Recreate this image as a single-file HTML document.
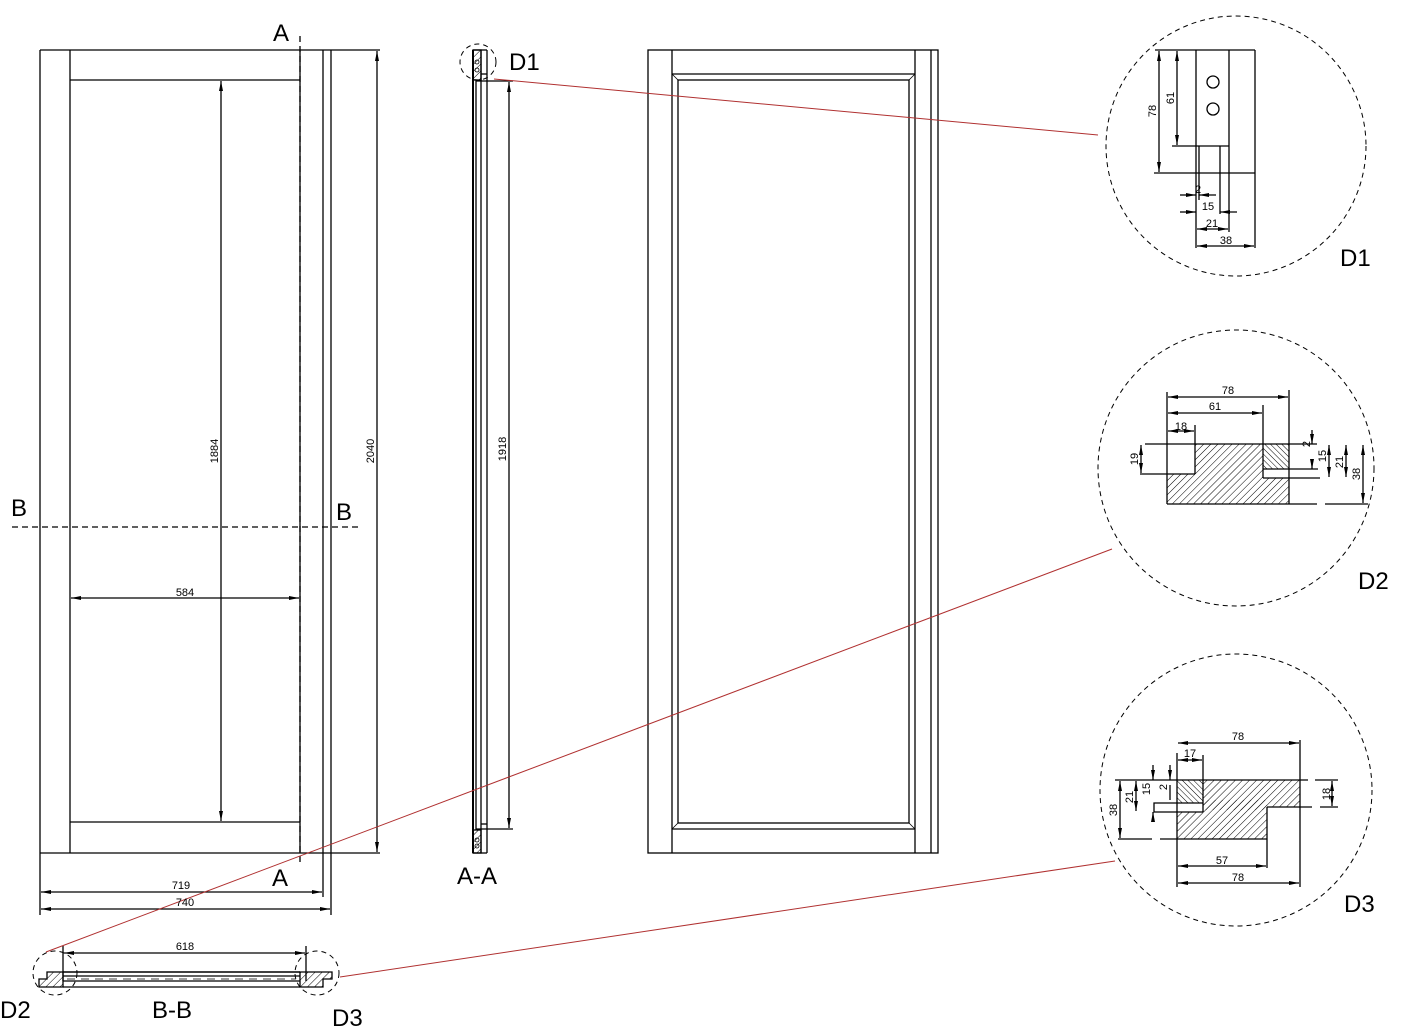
<!DOCTYPE html>
<html><head><meta charset="utf-8"><style>
html,body{margin:0;padding:0;background:#fff;}
svg{display:block;}
text{font-family:"Liberation Sans",sans-serif;fill:#000;}
.s{font-size:11px;}
.L{font-size:24px;}
</style></head><body>
<svg width="1421" height="1026" viewBox="0 0 1421 1026" xmlns="http://www.w3.org/2000/svg">
<defs>
<marker id="a" viewBox="0 0 10 4" refX="10" refY="2" markerWidth="10" markerHeight="4" orient="auto-start-reverse" markerUnits="userSpaceOnUse"><path d="M0,0 L10,2 L0,4z" fill="#000"/></marker>
<pattern id="h" width="5" height="5" patternUnits="userSpaceOnUse" patternTransform="rotate(45)"><line x1="0" y1="0" x2="0" y2="5" stroke="#000" stroke-width="1"/></pattern>
<pattern id="h2" width="4" height="4" patternUnits="userSpaceOnUse" patternTransform="rotate(-45)"><line x1="0" y1="0" x2="0" y2="4" stroke="#000" stroke-width="1"/></pattern>
</defs>
<g fill="none" stroke="#000" stroke-width="1.3">
<!-- Left door -->
<line x1="40" y1="50" x2="380" y2="50"/>
<line x1="40" y1="853" x2="380" y2="853"/>
<line x1="40" y1="50" x2="40" y2="915"/>
<line x1="70" y1="50" x2="70" y2="853"/>
<line x1="300" y1="50" x2="300" y2="853"/>
<line x1="323" y1="50" x2="323" y2="897"/>
<line x1="331" y1="50" x2="331" y2="915"/>
<line x1="70" y1="80" x2="300" y2="80"/>
<line x1="70" y1="822" x2="300" y2="822"/>
<line x1="300" y1="36" x2="300" y2="862" stroke-dasharray="6,4"/>
<line x1="12" y1="527" x2="362" y2="527" stroke-dasharray="6,4"/>
<line x1="221" y1="81" x2="221" y2="821" marker-start="url(#a)" marker-end="url(#a)"/>
<line x1="377" y1="51" x2="377" y2="852" marker-start="url(#a)" marker-end="url(#a)"/>
<line x1="71" y1="598" x2="299" y2="598" marker-start="url(#a)" marker-end="url(#a)"/>
<line x1="41" y1="892" x2="322" y2="892" marker-start="url(#a)" marker-end="url(#a)"/>
<line x1="41" y1="909" x2="330" y2="909" marker-start="url(#a)" marker-end="url(#a)"/>
<!-- A-A -->
<rect x="473" y="50" width="8" height="30" fill="url(#h)"/>
<rect x="473" y="830" width="8" height="23" fill="url(#h)"/>
<line x1="473" y1="50" x2="473" y2="853" stroke-width="2"/>
<line x1="476" y1="80" x2="476" y2="830"/>
<line x1="481" y1="50" x2="481" y2="853"/>
<line x1="487" y1="50" x2="487" y2="853"/>
<line x1="473" y1="50" x2="487" y2="50"/>
<line x1="473" y1="853" x2="487" y2="853"/>
<line x1="481" y1="74" x2="487" y2="74"/>
<line x1="481" y1="824" x2="487" y2="824"/>
<line x1="476" y1="81" x2="513" y2="81"/>
<line x1="476" y1="829" x2="513" y2="829"/>
<line x1="509" y1="82" x2="509" y2="828" marker-start="url(#a)" marker-end="url(#a)"/>
<circle cx="477" cy="62" r="2" stroke-width="0.8"/><circle cx="477" cy="70" r="2" stroke-width="0.8"/>
<circle cx="477" cy="840" r="2" stroke-width="0.8"/><circle cx="477" cy="846" r="2" stroke-width="0.8"/>
<circle cx="478" cy="62" r="18" stroke-dasharray="5,4" stroke-width="1"/>
<!-- Right door -->
<rect x="648" y="50" width="290" height="803"/>
<line x1="672" y1="50" x2="672" y2="853"/>
<line x1="915" y1="50" x2="915" y2="853"/>
<line x1="931" y1="50" x2="931" y2="853"/>
<line x1="672" y1="74" x2="915" y2="74"/>
<line x1="672" y1="829" x2="915" y2="829"/>
<rect x="678" y="80" width="231" height="743"/>
<line x1="672" y1="74" x2="678" y2="80" stroke-width="0.8"/>
<line x1="915" y1="74" x2="909" y2="80" stroke-width="0.8"/>
<line x1="672" y1="829" x2="678" y2="823" stroke-width="0.8"/>
<line x1="915" y1="829" x2="909" y2="823" stroke-width="0.8"/>
<!-- B-B -->
<path d="M47,972 H63 V987 H39 V979 H47Z" fill="url(#h)"/>
<path d="M300,972 H332 V979 H323 V987 H300Z" fill="url(#h)"/>
<line x1="63" y1="972" x2="300" y2="972" stroke-width="1.6"/>
<line x1="63" y1="976" x2="300" y2="976"/>
<line x1="67" y1="979" x2="296" y2="979" stroke-dasharray="8,6" stroke-width="0.8"/>
<line x1="63" y1="981" x2="300" y2="981"/>
<line x1="63" y1="987" x2="300" y2="987"/>
<line x1="63" y1="946" x2="63" y2="981"/>
<line x1="306" y1="946" x2="306" y2="981"/>
<line x1="64" y1="953" x2="305" y2="953" marker-start="url(#a)" marker-end="url(#a)"/>
<circle cx="55" cy="973" r="22" stroke-dasharray="5,4" stroke-width="1"/>
<circle cx="317" cy="973" r="22" stroke-dasharray="5,4" stroke-width="1"/>
<!-- Circles -->
<circle cx="1236" cy="146" r="130" stroke-dasharray="5,4" stroke-width="1"/>
<circle cx="1236" cy="468" r="138" stroke-dasharray="5,4" stroke-width="1"/>
<circle cx="1236" cy="790" r="136" stroke-dasharray="5,4" stroke-width="1"/>
<!-- D1 detail -->
<line x1="1155" y1="50" x2="1255" y2="50"/>
<line x1="1196" y1="50" x2="1196" y2="248"/>
<line x1="1229" y1="50" x2="1229" y2="232"/>
<line x1="1255" y1="50" x2="1255" y2="248"/>
<line x1="1172" y1="146" x2="1229" y2="146"/>
<line x1="1154" y1="173" x2="1255" y2="173"/>
<line x1="1199" y1="146" x2="1199" y2="200"/>
<line x1="1220" y1="146" x2="1220" y2="214"/>
<circle cx="1213" cy="82" r="6"/><circle cx="1213" cy="109" r="6"/>
<line x1="1159" y1="51" x2="1159" y2="172" marker-start="url(#a)" marker-end="url(#a)"/>
<line x1="1177" y1="51" x2="1177" y2="145" marker-start="url(#a)" marker-end="url(#a)"/>
<line x1="1180" y1="195" x2="1196" y2="195" marker-end="url(#a)"/><line x1="1216" y1="195" x2="1199" y2="195" marker-end="url(#a)"/>
<line x1="1180" y1="212" x2="1196" y2="212" marker-end="url(#a)"/><line x1="1237" y1="212" x2="1220" y2="212" marker-end="url(#a)"/>
<line x1="1197" y1="229" x2="1228" y2="229" marker-start="url(#a)" marker-end="url(#a)"/>
<line x1="1197" y1="246" x2="1254" y2="246" marker-start="url(#a)" marker-end="url(#a)"/>
<!-- D2 detail -->
<path d="M1195,444 H1263 V478 H1289 V504 H1167 V474 H1195Z" fill="url(#h)" stroke="none"/>
<rect x="1263" y="444" width="26" height="25" fill="url(#h2)" stroke="none"/>
<line x1="1145" y1="444" x2="1317" y2="444"/>
<line x1="1263" y1="469" x2="1318" y2="469"/>
<line x1="1263" y1="478" x2="1320" y2="478"/>
<line x1="1140" y1="474" x2="1195" y2="474"/>
<line x1="1167" y1="504" x2="1317" y2="504"/>
<line x1="1325" y1="504" x2="1368" y2="504"/>
<line x1="1167" y1="392" x2="1167" y2="504"/>
<line x1="1195" y1="425" x2="1195" y2="474"/>
<line x1="1263" y1="405" x2="1263" y2="478"/>
<line x1="1289" y1="390" x2="1289" y2="504"/>
<line x1="1168" y1="397" x2="1288" y2="397" marker-start="url(#a)" marker-end="url(#a)"/>
<line x1="1168" y1="413" x2="1262" y2="413" marker-start="url(#a)" marker-end="url(#a)"/>
<line x1="1168" y1="431" x2="1194" y2="431" marker-start="url(#a)" marker-end="url(#a)"/>
<line x1="1141" y1="445" x2="1141" y2="473" marker-start="url(#a)" marker-end="url(#a)"/>
<line x1="1312" y1="430" x2="1312" y2="444" marker-end="url(#a)"/><line x1="1312" y1="462" x2="1312" y2="469" marker-end="url(#a)"/>
<line x1="1329" y1="445" x2="1329" y2="477" marker-start="url(#a)" marker-end="url(#a)"/>
<line x1="1346" y1="445" x2="1346" y2="477" marker-start="url(#a)" marker-end="url(#a)"/>
<line x1="1363" y1="445" x2="1363" y2="503" marker-start="url(#a)" marker-end="url(#a)"/>
<!-- D3 detail -->
<rect x="1203" y="780" width="97" height="27" fill="url(#h)" stroke="none"/>
<rect x="1177" y="807" width="90" height="32" fill="url(#h)" stroke="none"/>
<rect x="1203" y="800" width="64" height="10" fill="url(#h)" stroke="none"/>
<rect x="1177" y="780" width="26" height="23" fill="url(#h2)" stroke="none"/>
<line x1="1115" y1="780" x2="1308" y2="780"/>
<line x1="1315" y1="780" x2="1338" y2="780"/>
<line x1="1267" y1="807" x2="1312" y2="807"/>
<line x1="1320" y1="807" x2="1338" y2="807"/>
<line x1="1118" y1="839" x2="1152" y2="839"/>
<line x1="1160" y1="839" x2="1267" y2="839"/>
<path d="M1203,803 H1154 V812 H1203" fill="#fff"/>
<line x1="1177" y1="753" x2="1177" y2="887"/>
<line x1="1203" y1="755" x2="1203" y2="812"/>
<line x1="1300" y1="740" x2="1300" y2="887"/>
<line x1="1267" y1="807" x2="1267" y2="868"/>
<line x1="1178" y1="743" x2="1299" y2="743" marker-start="url(#a)" marker-end="url(#a)"/>
<line x1="1178" y1="760" x2="1202" y2="760" marker-start="url(#a)" marker-end="url(#a)"/>
<line x1="1120" y1="781" x2="1120" y2="838" marker-start="url(#a)" marker-end="url(#a)"/>
<line x1="1136" y1="781" x2="1136" y2="811" marker-start="url(#a)" marker-end="url(#a)"/>
<line x1="1153" y1="765" x2="1153" y2="780" marker-end="url(#a)"/><line x1="1153" y1="818" x2="1153" y2="812" marker-end="url(#a)"/>
<line x1="1170" y1="765" x2="1170" y2="780" marker-end="url(#a)"/><line x1="1170" y1="800" x2="1170" y2="785"/>
<line x1="1332" y1="781" x2="1332" y2="806" marker-start="url(#a)" marker-end="url(#a)"/>
<line x1="1178" y1="866" x2="1266" y2="866" marker-start="url(#a)" marker-end="url(#a)"/>
<line x1="1178" y1="883" x2="1299" y2="883" marker-start="url(#a)" marker-end="url(#a)"/>
</g>
<!-- red leaders -->
<g stroke="#b03030" stroke-width="1" fill="none">
<line x1="494" y1="79" x2="1098" y2="135"/>
<line x1="46" y1="952" x2="1112" y2="549"/>
<line x1="340" y1="977" x2="1115" y2="861"/>
</g>
<!-- text -->
<g class="s" text-anchor="middle">
<text x="185" y="596">584</text>
<text x="181" y="889">719</text>
<text x="185" y="906">740</text>
<text x="185" y="950">618</text>
<text transform="translate(218,451) rotate(-90)">1884</text>
<text transform="translate(374,451) rotate(-90)">2040</text>
<text transform="translate(506,449) rotate(-90)">1918</text>
<text transform="translate(1156,111) rotate(-90)">78</text>
<text transform="translate(1174,98) rotate(-90)">61</text>
<text x="1198" y="193">2</text>
<text x="1208" y="210">15</text>
<text x="1212" y="227">21</text>
<text x="1226" y="244">38</text>
<text x="1228" y="394">78</text>
<text x="1215" y="410">61</text>
<text x="1181" y="430">18</text>
<text transform="translate(1138,459) rotate(-90)">19</text>
<text transform="translate(1310,444) rotate(-90)">2</text>
<text transform="translate(1326,456) rotate(-90)">15</text>
<text transform="translate(1343,462) rotate(-90)">21</text>
<text transform="translate(1360,474) rotate(-90)">38</text>
<text x="1238" y="740">78</text>
<text x="1190" y="757">17</text>
<text transform="translate(1117,810) rotate(-90)">38</text>
<text transform="translate(1133,797) rotate(-90)">21</text>
<text transform="translate(1150,789) rotate(-90)">15</text>
<text transform="translate(1167,787) rotate(-90)">2</text>
<text transform="translate(1330,794) rotate(-90)">18</text>
<text x="1222" y="864">57</text>
<text x="1238" y="881">78</text>
</g>
<g class="L">
<text x="273" y="41">A</text>
<text x="272" y="886">A</text>
<text x="11" y="516">B</text>
<text x="336" y="520">B</text>
<text x="509" y="70">D1</text>
<text x="457" y="884">A-A</text>
<text x="152" y="1018">B-B</text>
<text x="0" y="1018">D2</text>
<text x="332" y="1026">D3</text>
<text x="1340" y="266">D1</text>
<text x="1358" y="589">D2</text>
<text x="1344" y="912">D3</text>
</g>
</svg>
</body></html>
